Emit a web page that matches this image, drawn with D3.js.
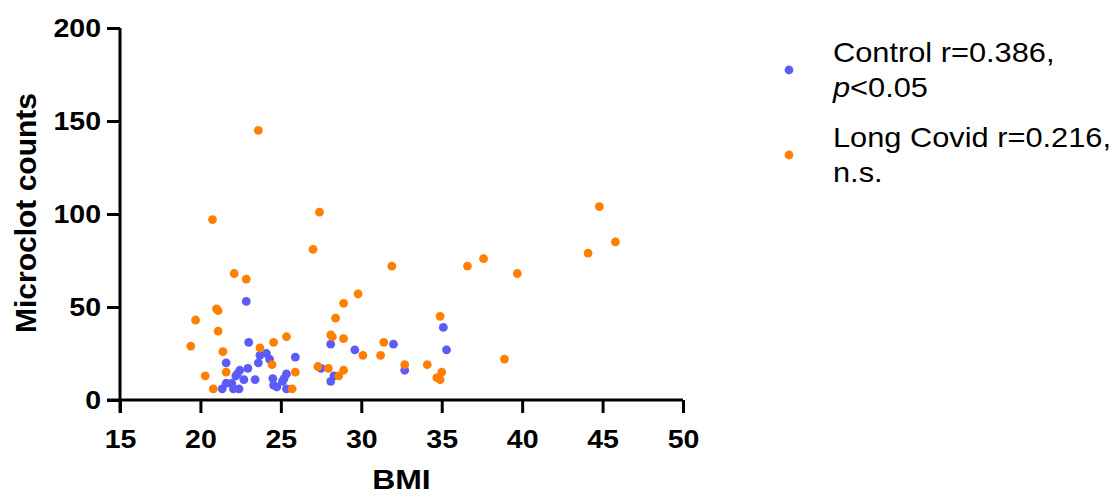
<!DOCTYPE html>
<html><head><meta charset="utf-8">
<script src="https://cdn.jsdelivr.net/npm/d3@7"></script>
<style>
html,body{margin:0;padding:0;background:#fff;}
svg{display:block;font-family:"Liberation Sans",Arial,sans-serif;}
</style></head>
<body>
<svg id="chart" width="1113" height="495"></svg>
<script>
// Data (BMI, microclot count)
const controlBMI = [22.85,23.0,28.1,29.6,23.7,24.1,24.3,23.6,25.9,21.6,22.95,22.45,27.5,22.2,22.3,22.7,23.4,28.3,28.1,21.6,21.95,21.35,22.05,22.4,24.5,25.2,25.35,25.1,24.55,24.75,25.35,32.0,35.1,35.3,32.7];
const controlCounts = [53,31,30,27,24,25,22,20,23,20,17,16,17,13,14,11,11,13,10,9,9,6,6,6,11.5,11.5,14,10,8,7,6,30,39,27,16];
const longCovidBMI = [23.6,20.75,27.4,27.0,22.1,22.85,29.8,21.0,21.1,28.9,19.7,28.4,21.1,28.1,28.2,28.9,25.35,24.55,19.4,21.4,23.7,30.1,24.45,27.3,27.95,28.9,28.6,20.3,21.6,25.9,20.8,25.7,31.9,36.6,37.6,34.9,31.4,31.2,32.7,34.1,35.0,34.7,34.9,44.8,45.8,44.1,39.7,38.9];
const longCovidCounts = [145,97,101,81,68,65,57,49,48,52,43,44,37,35,34,33,34,31,29,26,28,24,19,18,17,16,13,13,15,15,6,6,72,72,76,45,31,24,19,19,15,12,11,104,85,79,68,22];
const xTicks = [15,20,25,30,35,40,45,50];
const yTicks = [0,50,100,150,200];
const seriesNames = ["Control r=0.386,", "Long Covid r=0.216,"];
const seriesSecond = ["<0.05", "n.s."];
const seriesColors = ["#5b5bf7", "#ff8000"];

const SX = 1.14; // horizontal stretch of the reference's text
const svg = d3.select("#chart");
const x = d3.scaleLinear().domain([15,50]).range([120,683]);
const y = d3.scaleLinear().domain([0,200]).range([400,28]);

const xAxis = svg.append("g").attr("transform","translate(0,400)")
  .call(d3.axisBottom(x).tickValues(xTicks).tickSize(13).tickPadding(17).tickSizeOuter(0));
const yAxis = svg.append("g").attr("transform","translate(120,0)")
  .call(d3.axisLeft(y).tickValues(yTicks).tickSize(13).tickPadding(6).tickSizeOuter(0));
[xAxis,yAxis].forEach(g=>{
  g.select(".domain").attr("stroke","#000").attr("stroke-width",3);
  g.selectAll(".tick line").attr("stroke","#000").attr("stroke-width",3);
  g.selectAll(".tick text").attr("fill","#000").style("font-size","25px").style("font-weight","bold")
    .style("font-family","'Liberation Sans',Arial,sans-serif")
    .each(function(){
      const t = d3.select(this);
      const tx = +t.attr("x") || 0, ty = +t.attr("y") || 0;
      t.attr("x",0).attr("y",0).attr("transform",`translate(${tx},${ty}) scale(${SX},1)`);
    });
});
xAxis.select(".domain").attr("d", `M${120-13},0H${x(50)}`);
yAxis.select(".domain").attr("d", `M0,${y(200)}V${400+13}`);

svg.append("text").attr("transform",`translate(${x(32.5)},489) scale(${SX},1)`).attr("text-anchor","middle")
  .style("font-size","28px").style("font-weight","bold").text("BMI");
svg.append("text").attr("transform","translate(36,213) rotate(-90)").attr("text-anchor","middle")
  .style("font-size","30px").style("font-weight","bold").text("Microclot counts");

const ctrl = controlBMI.map((b,i)=>({b, c:controlCounts[i]}));
const lc = longCovidBMI.map((b,i)=>({b, c:longCovidCounts[i]}));
svg.append("g").selectAll("circle").data(ctrl).join("circle")
  .attr("cx",d=>x(d.b)).attr("cy",d=>y(d.c)).attr("r",4.4).attr("fill",seriesColors[0]);
svg.append("g").selectAll("circle").data(lc).join("circle")
  .attr("cx",d=>x(d.b)).attr("cy",d=>y(d.c)).attr("r",4.4).attr("fill",seriesColors[1]);

// legend
const lg = svg.append("g");
const ly = [70,155];
seriesNames.forEach((n,i)=>{
  lg.append("circle").attr("cx",789).attr("cy",ly[i]).attr("r",4.4).attr("fill",seriesColors[i]);
  lg.append("text").attr("transform",`translate(833,${ly[i]-8}) scale(${SX},1)`).style("font-size","27px").text(n);
  const t2 = lg.append("text").attr("transform",`translate(833,${ly[i]+27}) scale(${SX},1)`).style("font-size","27px");
  if(i===0){ t2.append("tspan").style("font-style","italic").text("p"); }
  t2.append("tspan").text(seriesSecond[i]);
});
</script>
</body></html>
